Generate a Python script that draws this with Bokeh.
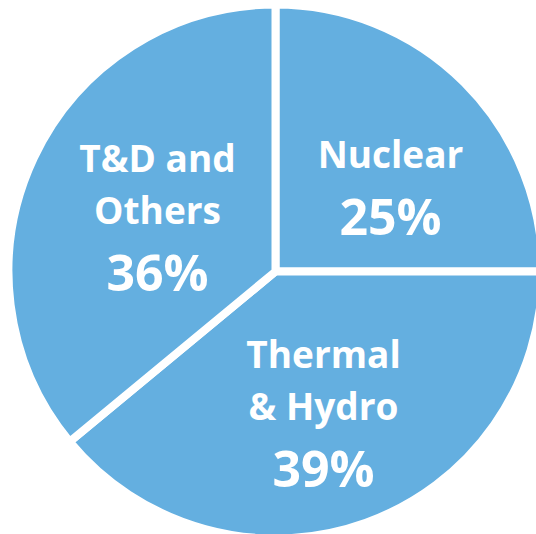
import math

from bokeh.core.properties import value
from bokeh.embed import file_html
from bokeh.models import ColumnDataSource, Range1d
from bokeh.plotting import figure
from bokeh.resources import INLINE

# Share of the total by segment, in percent, drawn clockwise from 12 o'clock
segments = ["Nuclear", "Thermal & Hydro", "T&D and Others"]
shares = [25, 39, 36]
name_lines = [["Nuclear"], ["Thermal", "& Hydro"], ["T&D and", "Others"]]

W, H = 536, 534
FILL = "#64AFE0"
CX, CY, R = 275, H - 271, 263
GAP = 8  # white separator width

# Text block anchors: (centre x, baseline of first line), in page pixels
label_anchor = [(390, 153), (323, 353), (157, 157)]
NAME_STEP = 52
PCT_STEP = 62

# Wedge angles
starts, ends = [], []
cum = 0.0
for s in shares:
    a0 = math.radians(90 - cum * 3.6)
    a1 = math.radians(90 - (cum + s) * 3.6)
    starts.append(a0)
    ends.append(a1)
    cum += s

wedges = ColumnDataSource(dict(
    x=[CX] * len(shares), y=[CY] * len(shares),
    start=starts, end=ends, name=segments,
))

p = figure(width=W, height=H, output_backend="svg", toolbar_location=None,
           x_range=Range1d(0, W), y_range=Range1d(0, H),
           min_border=0, outline_line_color=None)
p.axis.visible = False
p.grid.visible = False
p.background_fill_color = "white"
p.border_fill_color = "white"

p.wedge(x="x", y="y", radius=R + GAP / 2, start_angle="start", end_angle="end",
        direction="clock", source=wedges, fill_color=FILL,
        line_color="white", line_width=GAP, line_join="round")

# Labels: segment name lines, then the percentage
tx, ty, tt, ts = [], [], [], []
for lines, (ax, ay), s in zip(name_lines, label_anchor, shares):
    y = ay
    for i, ln in enumerate(lines):
        if i:
            y += NAME_STEP
        tx.append(ax); ty.append(H - y); tt.append(ln); ts.append("37px")
    y += PCT_STEP
    tx.append(ax); ty.append(H - y); tt.append(f"{s}%"); ts.append("50px")

labels = ColumnDataSource(dict(x=tx, y=ty, text=tt, size=ts))
p.text(x="x", y="y", text="text", source=labels, text_font_size="size",
       text_font=value("Open Sans"), text_font_style="bold",
       text_color="white", text_align="center", text_baseline="alphabetic")

with open("out.html", "w") as f:
    f.write(file_html(p, INLINE))
